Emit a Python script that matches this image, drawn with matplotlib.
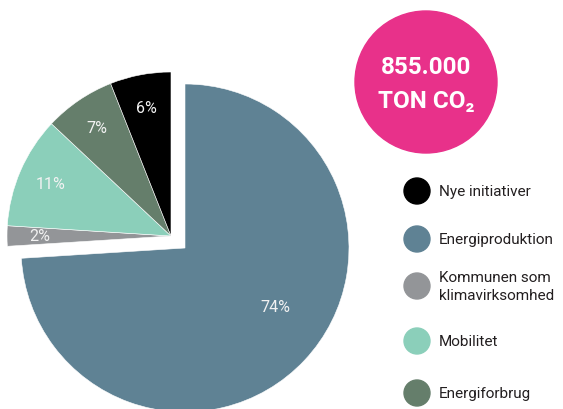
import matplotlib

matplotlib.use("Agg")
import matplotlib.pyplot as plt
from matplotlib.patches import Circle
import numpy as np

# slices, clockwise from 12 o'clock
slice_names = ["Energiproduktion", "Kommunen som klimavirksomhed", "Mobilitet", "Energiforbrug", "Nye initiativer"]
slice_values = [74, 2, 11, 7, 6]
slice_colors = ["#5F8294", "#939598", "#8BCFBA", "#657E6B", "#000000"]

legend_labels = ["Nye initiativer", "Energiproduktion", "Kommunen som\nklimavirksomhed", "Mobilitet", "Energiforbrug"]
legend_colors = ["#000000", "#5F8294", "#939598", "#8BCFBA", "#657E6B"]

total_text = ["855.000", "TON CO\u2082"]

plt.rcParams["font.family"] = ["Roboto", "DejaVu Sans"]

W, H = 563, 410
fig = plt.figure(figsize=(W / 100, H / 100), dpi=100)
ax = fig.add_axes([0, 0, 1, 1])

center = (185, 161)
radius = 164
wedges, texts, autotexts = ax.pie(
    slice_values,
    colors=slice_colors,
    startangle=90,
    counterclock=False,
    center=center,
    radius=radius,
    autopct=lambda p: f"{p:.0f}%",
    pctdistance=0.8,
    wedgeprops=dict(edgecolor="white", linewidth=0.4),
    textprops=dict(color="#F2F2F2", fontsize=11.5),
    frame=True,
)
ax.set_xlim(0, W)
ax.set_ylim(0, H)
ax.set_aspect("equal")
ax.axis("off")

# the small slices are pulled out together, up and to the left
shift = np.array([-14, 12])
for w, t in zip(wedges[1:], autotexts[1:]):
    w.set_center(tuple(np.array(center) + shift))
    x, y = t.get_position()
    t.set_position((x + shift[0], y + shift[1]))

# big slice label sits a bit higher than the bisector
ang = np.deg2rad(-33)
autotexts[0].set_position((center[0] + 0.66 * radius * np.cos(ang), center[1] + 0.66 * radius * np.sin(ang)))

# headline badge
ax.add_patch(Circle((426, 327), 71, color="#E8318A", zorder=3))
ax.text(426, 342, total_text[0], color="white", fontsize=17.5, fontweight="bold", ha="center", va="center", zorder=4)
ax.text(426, 308, total_text[1], color="white", fontsize=17.5, fontweight="bold", ha="center", va="center", zorder=4)

# legend
legend_y = [218, 170, 123, 68, 16]
ax.scatter([417] * len(legend_y), legend_y, s=350, c=legend_colors, zorder=3, clip_on=False)
for y, lab in zip(legend_y, legend_labels):
    ax.text(439, y, lab, fontsize=11, color="#231F20", ha="left", va="center", linespacing=1.3)

fig.savefig("out.png", dpi=100)
plt.close(fig)
